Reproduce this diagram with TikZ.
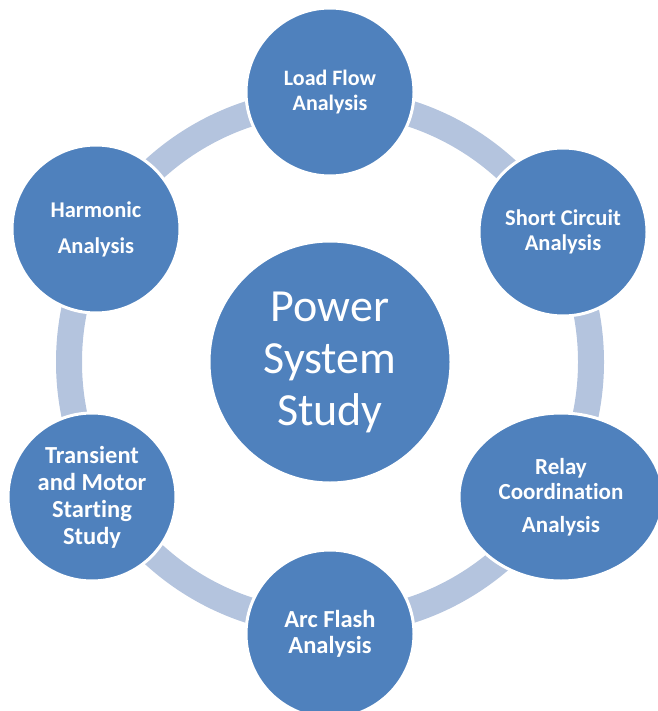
\documentclass[tikz,border=0pt]{standalone}
\usepackage{fontspec}
\setmainfont{Carlito}[Ligatures=NoCommon]
\usepackage{xcolor}
\usetikzlibrary{shapes.geometric, positioning}
\definecolor{studyblue}{RGB}{79,129,189}
\definecolor{ringblue}{RGB}{180,196,222}
\newcommand{\topicfont}[2]{\bfseries\fontsize{#1}{#2}\selectfont}

\begin{document}
\begin{tikzpicture}[x=1pt, y=-1pt,
    ringline/.style={draw=ringblue, line width=26pt},
    topic/.style={draw=white, line width=3pt, fill=studyblue, circle,
      minimum size=168pt, inner sep=0pt, text=white, align=center,
      font=\topicfont{22}{25}}]
    \useasboundingbox (0,0) rectangle (657,711);

    % ring behind the topics
    \coordinate (hub) at (330,362);
    \draw[ringline] (hub) circle (261pt);

    \node[topic, minimum size=242pt, font=\fontsize{46}{52}\selectfont]
      (study) at (hub) {Power\\System\\Study};

    \node[topic]
      (loadflow) at (330,92) {Load Flow\\Analysis};
    \node[topic, font=\topicfont{22.5}{25}]
      (short) at (563,232) {Short Circuit\\Analysis};
    \node[topic, ellipse, minimum width=204pt, minimum height=168pt, font=\topicfont{23}{25}]
      (relay) at (561,497) {Relay\\Coordination\\[8pt]Analysis};
    \node[topic, font=\topicfont{24.5}{26}]
      (arcflash) at (330,634) {Arc Flash\\Analysis};
    \node[topic, font=\topicfont{24.5}{27}]
      (transient) at (92,497) {Transient\\and Motor\\Starting\\Study};
    \node[topic, font=\topicfont{22.5}{25}]
      (harmonic) at (96,229) {Harmonic\\[11pt]Analysis};
  \end{tikzpicture}
\end{document}
